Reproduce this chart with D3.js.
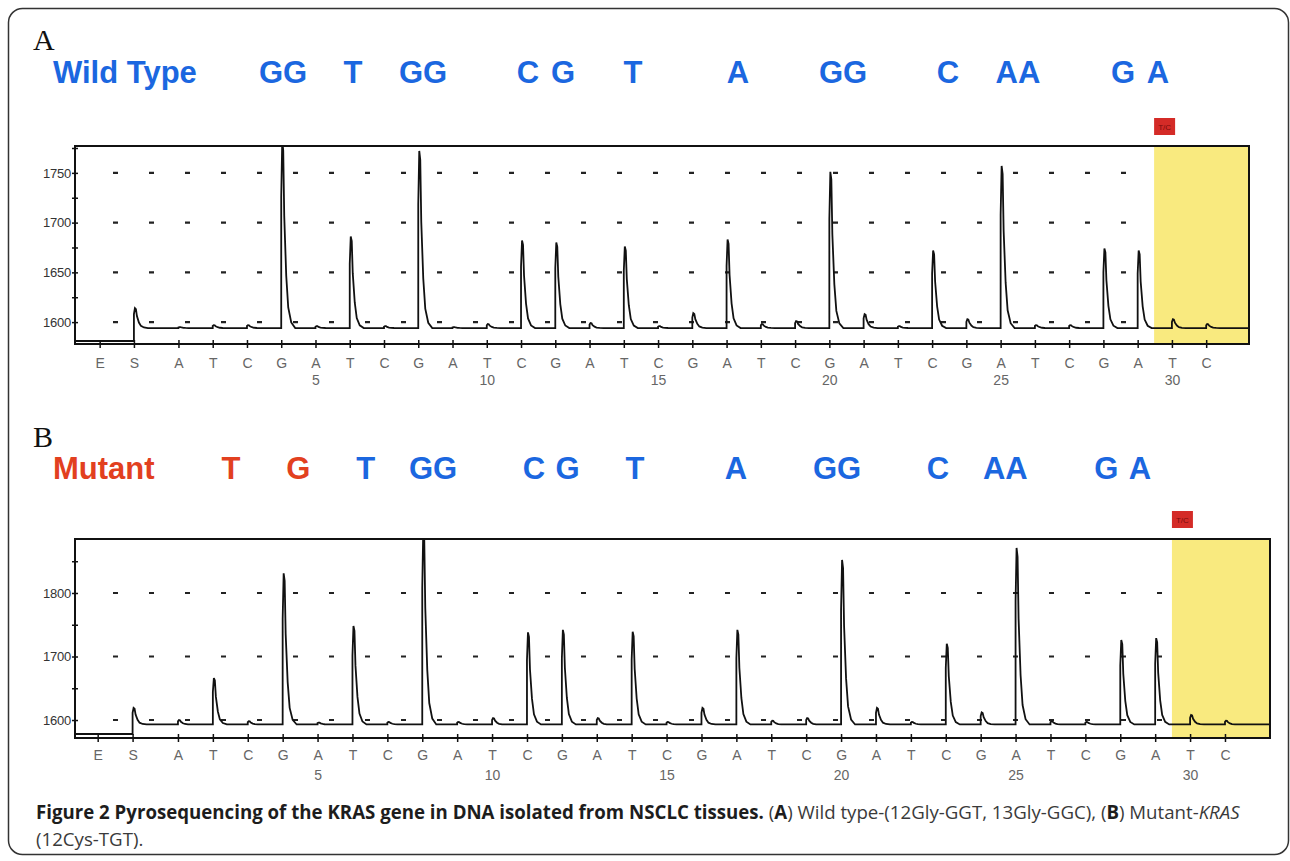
<!DOCTYPE html>
<html><head><meta charset="utf-8">
<script src="https://cdn.jsdelivr.net/npm/d3@7"></script>
<style>body{margin:0;background:#fff}</style>
</head><body>
<svg id="c" width="1290" height="861" xmlns="http://www.w3.org/2000/svg"></svg>
<script>
// ---------------- DATA ----------------
const dispensation = ["E","S","A","T","C","G","A","T","C","G","A","T","C","G","A","T","C","G","A","T","C","G","A","T","C","G","A","T","C","G","A","T","C"];
const dispIndex    = [-1.3,-0.3,1,2,3,4,5,6,7,8,9,10,11,12,13,14,15,16,17,18,19,20,21,22,23,24,25,26,27,28,29,30,31];
const dispNumbers  = [5,10,15,20,25,30];

// peak signal per dispensation (E has no peak)
const wildPeaks   = [null,1614,1595,1597,1597,1782,1596,1686,1596,1772,1595,1598,1682,1680,1599,1676,1596,1609,1683,1598,1601,1751,1608,1596,1672,1603,1757,1597,1597,1674,1672,1603,1598];
const mutantPeaks = [null,1619,1600,1666,1598,1831,1596,1748,1597,1900,1597,1603,1738,1742,1603,1739,1597,1619,1742,1599,1603,1852,1619,1597,1720,1612,1871,1598,1597,1726,1729,1608,1599];
const wildBaseline = 1594, mutantBaseline = 1593;
const wildPreStart = 1581, mutantPreStart = 1578;

const wildYTicks   = [1600,1650,1700,1750];
const wildYMinor   = [1600,1625,1650,1675,1700,1725,1750,1775];
const mutantYTicks = [1600,1700,1800];
const mutantYMinor = [1600,1650,1700,1750,1800,1850];

// base calls shown above each pyrogram: dispensation number and text
const wildCallIdx  = [4,6,8,11,12,14,17,20,23,25,28,29];
const wildCallTxt  = ["GG","T","GG","C","G","T","A","GG","C","AA","G","A"];
const mutCallIdx   = [2,4,6,8,11,12,14,17,20,23,25,28,29];
const mutCallTxt   = ["T","G","T","GG","C","G","T","A","GG","C","AA","G","A"];
const mutCallMut   = [true,true,false,false,false,false,false,false,false,false,false,false,false];

const variableStart = 29.48; // start of the variable (T/C) region, dispensation units
const variableLabel = "T/C";

// peak profile (offset in px after dispensation, fraction of peak height)
const profileDx   = [0,0,1,2,3,5,7,10,14];
const profileFrac = [0,0.7,1,0.95,0.6,0.28,0.11,0.03,0];

// ---------------- DRAW ----------------
const svg = d3.select("#c");
const BLUE = "#1b67e0", RED = "#e2401f";

svg.append("rect").attr("x",8.5).attr("y",8.5).attr("width",1280).attr("height",846)
  .attr("rx",14).attr("fill","#fff").attr("stroke","#333").attr("stroke-width",1.5);

function panel(cfg){
  const g = svg.append("g");
  const x = d3.scaleLinear().domain(cfg.xDomain).range([cfg.left, cfg.right]);
  const y = d3.scaleLinear().domain(cfg.yDomain).range([cfg.bottom, cfg.top]);
  const lx = d3.scaleLinear().domain(cfg.labelDomain).range(cfg.labelRange);

  // panel letter and title
  g.append("text").attr("x",33).attr("y",cfg.letterY).text(cfg.letter)
    .attr("font-family","Liberation Serif, Times New Roman, serif").attr("font-size",30).attr("fill","#111");
  g.append("text").attr("x",53).attr("y",cfg.titleY).text(cfg.title)
    .attr("font-family","Liberation Sans, Arial, sans-serif").attr("font-weight","bold")
    .attr("font-size",31).attr("fill",cfg.titleColor);
  g.selectAll("text.call").data(cfg.callIdx).enter().append("text")
    .attr("x",(d)=>lx(d)).attr("y",cfg.titleY).attr("text-anchor","middle")
    .text((d,i)=>cfg.callTxt[i])
    .attr("font-family","Liberation Sans, Arial, sans-serif").attr("font-weight","bold")
    .attr("font-size",31).attr("fill",(d,i)=>cfg.callMut && cfg.callMut[i] ? RED : BLUE);

  // grid dashes
  const gx0 = 113, vx = x(variableStart);
  g.selectAll("line.grid").data(cfg.yTicks).enter().append("line")
    .attr("x1",gx0).attr("x2",vx).attr("y1",d=>y(d)).attr("y2",d=>y(d))
    .attr("stroke","#222").attr("stroke-width",2.2).attr("stroke-dasharray","5,31");

  // variable region
  g.append("rect").attr("x",vx).attr("y",cfg.top).attr("width",cfg.right-vx).attr("height",cfg.bottom-cfg.top)
    .attr("fill","#f9ea7f");
  g.append("rect").attr("x",vx).attr("y",cfg.top-28).attr("width",21).attr("height",17).attr("fill","#d42b27");
  g.append("text").attr("x",vx+10.5).attr("y",cfg.top-16.5).attr("text-anchor","middle").text(variableLabel)
    .attr("font-family","Liberation Sans, Arial, sans-serif").attr("font-size",8).attr("fill","#7a0c0c");

  // trace
  const pts = [[cfg.xDomain[0], cfg.pre]];
  const unit = x.invert(cfg.left+1) - x.invert(cfg.left);
  dispIndex.forEach((di,k)=>{
    const p = cfg.peaks[k];
    if (p==null) return;
    if (dispensation[k]==="S") pts.push([di, cfg.pre]);
    profileDx.forEach((dx,j)=>{
      pts.push([di + dx*unit, cfg.base + (p-cfg.base)*profileFrac[j]]);
    });
  });
  pts.push([cfg.xDomain[1], cfg.base]);
  const clipId = "clip"+cfg.letter;
  svg.append("clipPath").attr("id",clipId).append("rect")
    .attr("x",cfg.left).attr("y",cfg.top).attr("width",cfg.right-cfg.left).attr("height",cfg.bottom-cfg.top);
  g.append("path").datum(pts).attr("clip-path",`url(#${clipId})`)
    .attr("d", d3.line().x(d=>x(d[0])).y(d=>y(d[1])))
    .attr("fill","none").attr("stroke","#111").attr("stroke-width",1.8).attr("stroke-linejoin","miter");

  // frame
  g.append("rect").attr("x",cfg.left).attr("y",cfg.top).attr("width",cfg.right-cfg.left).attr("height",cfg.bottom-cfg.top)
    .attr("fill","none").attr("stroke","#111").attr("stroke-width",2);

  // y axis
  const ya = g.append("g").attr("transform",`translate(${cfg.left},0)`)
    .call(d3.axisLeft(y).tickValues(cfg.yMinor).tickSize(3)
      .tickFormat(d=>cfg.yTicks.includes(d)? d3.format("d")(d) : ""));
  ya.select(".domain").remove();
  ya.selectAll(".tick line").attr("x1",-3).attr("x2",3).attr("stroke","#111").attr("stroke-width",1.5);
  ya.selectAll(".tick text").attr("x",-4).attr("font-family","Liberation Sans, Arial, sans-serif")
    .attr("font-size",13).attr("fill","#333").attr("letter-spacing",-0.2);

  // x axis
  const xa = g.append("g").attr("transform",`translate(0,${cfg.bottom})`)
    .call(d3.axisBottom(x).tickValues(dispIndex).tickSize(4)
      .tickFormat((d,i)=>dispensation[i]));
  xa.select(".domain").remove();
  xa.selectAll(".tick line").attr("y1",-4).attr("y2",4).attr("stroke","#111").attr("stroke-width",1.5);
  xa.selectAll(".tick text").attr("y",cfg.labY).attr("dy",0).attr("font-family","Liberation Sans, Arial, sans-serif")
    .attr("font-size",14).attr("fill","#666");
  const xn = g.append("g").attr("transform",`translate(0,${cfg.bottom})`)
    .call(d3.axisBottom(x).tickValues(dispNumbers).tickSize(0).tickFormat(d3.format("d")));
  xn.select(".domain").remove();
  xn.selectAll(".tick text").attr("y",cfg.numY).attr("dy",0).attr("font-family","Liberation Sans, Arial, sans-serif")
    .attr("font-size",14).attr("fill","#666");
}

panel({letter:"A", letterY:50, title:"Wild Type", titleY:83, titleColor:BLUE,
  callIdx:wildCallIdx, callTxt:wildCallTxt, callMut:null,
  labelDomain:[4,29], labelRange:[283,1158],
  left:75, right:1249, top:146, bottom:344,
  xDomain:[-2.02,32.25], yDomain:[1578,1777],
  yTicks:wildYTicks, yMinor:wildYMinor,
  peaks:wildPeaks, base:wildBaseline, pre:wildPreStart, labY:24, numY:41});

panel({letter:"B", letterY:447, title:"Mutant", titleY:479, titleColor:RED,
  callIdx:mutCallIdx, callTxt:mutCallTxt, callMut:mutCallMut,
  labelDomain:[2,29], labelRange:[231,1140],
  left:75, right:1270, top:539, bottom:738,
  xDomain:[-1.95,32.29], yDomain:[1571.7,1885],
  yTicks:mutantYTicks, yMinor:mutantYMinor,
  peaks:mutantPeaks, base:mutantBaseline, pre:mutantPreStart, labY:22, numY:42});

// caption
const cap1 = [
  {t:"Figure 2 Pyrosequencing of the KRAS gene in DNA isolated from NSCLC tissues.", b:true},
  {t:" (", b:false},{t:"A", b:true},{t:") Wild type-(12Gly-GGT, 13Gly-GGC), (", b:false},
  {t:"B", b:true},{t:") Mutant-", b:false},{t:"KRAS", b:false, i:true}];
const cap2 = "(12Cys-TGT).";
const capG = svg.append("g");
const ct = capG.append("text").attr("x",36).attr("y",819)
  .attr("font-family","Open Sans, Noto Sans, sans-serif").attr("font-size",19);
cap1.forEach(s=>{
  ct.append("tspan").text(s.t).attr("font-weight",s.b?"bold":"normal")
    .attr("font-style",s.i?"italic":"normal").attr("fill",s.b?"#1d1d1d":"#3a3a3a");
});
capG.append("text").attr("x",36).attr("y",846).text(cap2)
  .attr("font-family","Open Sans, Noto Sans, sans-serif").attr("font-size",19).attr("fill","#3a3a3a");
const natural = ct.node().getComputedTextLength();
const sx = 1204/natural;
capG.attr("transform",`translate(36,0) scale(${sx},1) translate(-36,0)`);
</script>
</body></html>
